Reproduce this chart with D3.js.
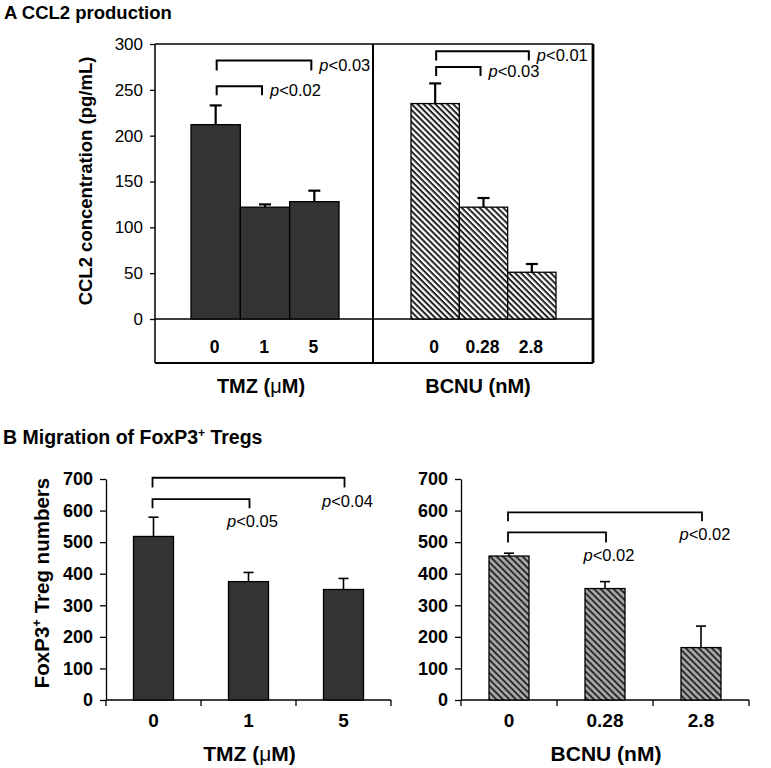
<!DOCTYPE html>
<html><head><meta charset="utf-8">
<script src="https://cdn.jsdelivr.net/npm/d3@7/dist/d3.min.js"></script>
<style>body{margin:0;background:#fff}svg{display:block}text{font-family:"Liberation Sans",Arial,Helvetica,sans-serif}</style>
</head><body>
<svg id="c" width="771" height="768"></svg>
<script>
// ---- data ----
const catsTMZ = ["0", "1", "5"];
const catsBCNU = ["0", "0.28", "2.8"];
const ccl2TMZ = [212, 122, 128];
const ccl2TMZErr = [21, 3, 12];
const ccl2BCNU = [235, 122, 51];
const ccl2BCNUErr = [22, 10, 9];
const tregTMZ = [518, 375, 350];
const tregTMZErr = [61, 29, 35];
const tregBCNU = [456, 353, 166];
const tregBCNUErr = [9, 22, 68];
const ticksA = [0, 50, 100, 150, 200, 250, 300];
const ticksB = [0, 100, 200, 300, 400, 500, 600, 700];
// brackets: [fromIndex, toIndex, bracketY, legBottomY, label]
const bracketsATMZ = [[0, 2, 282, 271, "<0.03"], [0, 1, 254, 244, "<0.02"]];
const bracketsABCNU = [[0, 2, 292, 282, "<0.01"], [0, 1, 275, 265, "<0.03"]];
const bracketsBTMZ = [[0, 2, 704, 673, "<0.04"], [0, 1, 636, 607, "<0.05"]];
const bracketsBBCNU = [[0, 2, 594, 566, "<0.02"], [0, 1, 531, 499, "<0.02"]];

const svg = d3.select("#c");
const defs = svg.append("defs");
const p1 = defs.append("pattern").attr("id","hatchA").attr("patternUnits","userSpaceOnUse")
  .attr("width",4.2).attr("height",4.2).attr("patternTransform","rotate(45)");
p1.append("rect").attr("width",4.2).attr("height",4.2).attr("fill","#fff");
p1.append("rect").attr("y",0).attr("width",4.2).attr("height",2).attr("fill","#222");
const p2 = defs.append("pattern").attr("id","hatchB").attr("patternUnits","userSpaceOnUse")
  .attr("width",4.6).attr("height",4.6).attr("patternTransform","rotate(45)");
p2.append("rect").attr("width",4.6).attr("height",4.6).attr("fill","#a8a8a8");
p2.append("rect").attr("y",0).attr("width",4.6).attr("height",1.9).attr("fill","#2a2a2a");

function line(g,x1,y1,x2,y2,w){g.append("line").attr("x1",x1).attr("y1",y1).attr("x2",x2).attr("y2",y2).attr("stroke","#000").attr("stroke-width",w||1.5);}

// ---- Panel A ----
svg.append("text").attr("x",4).attr("y",19).attr("font-size",18.5).attr("font-weight","bold").text("A CCL2 production");
const yA = d3.scaleLinear().domain([0,300]).range([319,44]);
const gA = svg.append("g");
const axA = gA.append("g").attr("transform","translate(155,0)")
  .call(d3.axisLeft(yA).tickValues(ticksA).tickSize(5).tickPadding(7));
axA.select(".domain").remove();
axA.selectAll("line").attr("stroke-width",1.3);
axA.selectAll("text").attr("font-size",17).attr("font-family","Liberation Sans, Arial, sans-serif").attr("fill","#000");
// frame
line(gA,155,44,593,44);
line(gA,155,44,155,363);
line(gA,155,363,593,363,2);
line(gA,373,44,373,363,2);
line(gA,593,44,593,363,2.8);
line(gA,155,319,593,319,1.3);

gA.append("text").attr("transform","translate(92,181) rotate(-90)").attr("text-anchor","middle")
  .attr("font-size",18.5).attr("font-weight","bold").text("CCL2 concentration (pg/mL)");

function panelA(cats, vals, errs, range, fill, brackets, labelX){
  const x = d3.scaleBand().domain(cats).range(range).padding(0);
  const g = gA.append("g");
  g.selectAll("rect.bar").data(vals).join("rect").attr("class","bar")
    .attr("x",(d,i)=>x(cats[i])).attr("width",x.bandwidth())
    .attr("y",d=>yA(d)).attr("height",d=>yA(0)-yA(d))
    .attr("fill",fill).attr("stroke","#000").attr("stroke-width",1.3);
  vals.forEach((v,i)=>{
    const cx = x(cats[i])+x.bandwidth()/2;
    line(g,cx,yA(v),cx,yA(v+errs[i]),2.2);
    line(g,cx-6,yA(v+errs[i]),cx+6,yA(v+errs[i]),2.2);
  });
  cats.forEach(c=>{
    g.append("text").attr("x",x(c)+x.bandwidth()/2-1).attr("y",353).attr("text-anchor","middle")
      .attr("font-size",17.5).attr("font-weight","bold").text(c);
  });
  brackets.forEach(b=>{
    const xa = x(cats[b[0]])+x.bandwidth()/2+1, xb = x(cats[b[1]])+x.bandwidth()/2-3;
    g.append("path").attr("d",`M${xa},${yA(b[3])}V${yA(b[2])}H${xb}V${yA(b[3])}`)
      .attr("fill","none").attr("stroke","#000").attr("stroke-width",2);
    const t = g.append("text").attr("x",xb+8).attr("y",yA(b[2])+10).attr("font-size",16.5);
    t.append("tspan").attr("font-style","italic").text("p");
    t.append("tspan").text(b[4]);
  });
  const t = g.append("text").attr("x",labelX).attr("y",393).attr("text-anchor","middle")
    .attr("font-size",20).attr("font-weight","bold");
  return t;
}
const a1 = panelA(catsTMZ, ccl2TMZ, ccl2TMZErr, [191,339], "#333", bracketsATMZ, 261);
a1.append("tspan").text("TMZ (");
a1.append("tspan").attr("font-weight","normal").text("μ");
a1.append("tspan").text("M)");
const a2 = panelA(catsBCNU, ccl2BCNU, ccl2BCNUErr, [411,556], "url(#hatchA)", bracketsABCNU, 478);
a2.text("BCNU (nM)");

// ---- Panel B ----
const tb = svg.append("text").attr("x",3).attr("y",444).attr("font-size",19.5).attr("font-weight","bold");
tb.append("tspan").text("B Migration of FoxP3");
tb.append("tspan").attr("font-size",12).attr("dy",-7).text("+");
tb.append("tspan").attr("dy",7).text(" Tregs");

const yB = d3.scaleLinear().domain([0,700]).range([700,479]);
const yl = svg.append("text").attr("transform","translate(49,583) rotate(-90)").attr("text-anchor","middle")
  .attr("font-size",20.5).attr("font-weight","bold");
yl.append("tspan").text("FoxP3");
yl.append("tspan").attr("font-size",13).attr("dy",-8).text("+");
yl.append("tspan").attr("dy",8).text(" Treg numbers");

function panelB(x0, x1, cats, vals, errs, fill, brackets){
  const g = svg.append("g");
  const x = d3.scaleBand().domain(cats).range([x0,x1]);
  const ay = g.append("g").attr("transform",`translate(${x0},0)`)
    .call(d3.axisLeft(yB).tickValues(ticksB).tickSize(6).tickPadding(7).tickSizeOuter(0));
  ay.select(".domain").attr("stroke-width",1.3);
  ay.selectAll("line").attr("stroke-width",1.3);
  ay.selectAll("text").attr("font-size",18).attr("font-weight","bold").attr("fill","#000").attr("font-family","Liberation Sans, Arial, sans-serif");
  line(g,x0,yB(0),x1,yB(0),1.3);
  const edges = [x0, ...cats.map(c=>x(c)+x.bandwidth())];
  edges.forEach(e=>line(g,e,yB(0),e,yB(0)+6,1.3));
  const bw = 40;
  g.selectAll("rect.bar").data(vals).join("rect").attr("class","bar")
    .attr("x",(d,i)=>x(cats[i])+x.bandwidth()/2-bw/2).attr("width",bw)
    .attr("y",d=>yB(d)).attr("height",d=>yB(0)-yB(d))
    .attr("fill",fill).attr("stroke","#000").attr("stroke-width",1.3);
  vals.forEach((v,i)=>{
    const cx = x(cats[i])+x.bandwidth()/2;
    line(g,cx,yB(v),cx,yB(v+errs[i]),1.6);
    line(g,cx-5,yB(v+errs[i]),cx+5,yB(v+errs[i]),1.6);
  });
  cats.forEach(c=>{
    g.append("text").attr("x",x(c)+x.bandwidth()/2).attr("y",727).attr("text-anchor","middle")
      .attr("font-size",19).attr("font-weight","bold").text(c);
  });
  brackets.forEach(b=>{
    const xa = x(cats[b[0]])+x.bandwidth()/2-1, xb = x(cats[b[1]])+x.bandwidth()/2+1;
    g.append("path").attr("d",`M${xa},${yB(b[3])}V${yB(b[2])}H${xb}V${yB(b[3])}`)
      .attr("fill","none").attr("stroke","#000").attr("stroke-width",1.8);
    const t = g.append("text").attr("x",xb+3).attr("y",yB(b[3])+19).attr("text-anchor","middle").attr("font-size",16.5);
    t.append("tspan").attr("font-style","italic").text("p");
    t.append("tspan").text(b[4]);
  });
  const t = g.append("text").attr("x",(x0+x1)/2+1).attr("y",761).attr("text-anchor","middle")
    .attr("font-size",21).attr("font-weight","bold");
  return t;
}
const bt1 = panelB(106, 391, catsTMZ, tregTMZ, tregTMZErr, "#333", bracketsBTMZ);
bt1.append("tspan").text("TMZ (");
bt1.append("tspan").attr("font-weight","normal").text("μ");
bt1.append("tspan").text("M)");
const bt2 = panelB(461, 749, catsBCNU, tregBCNU, tregBCNUErr, "url(#hatchB)", bracketsBBCNU);
bt2.text("BCNU (nM)");
</script>
</body></html>
